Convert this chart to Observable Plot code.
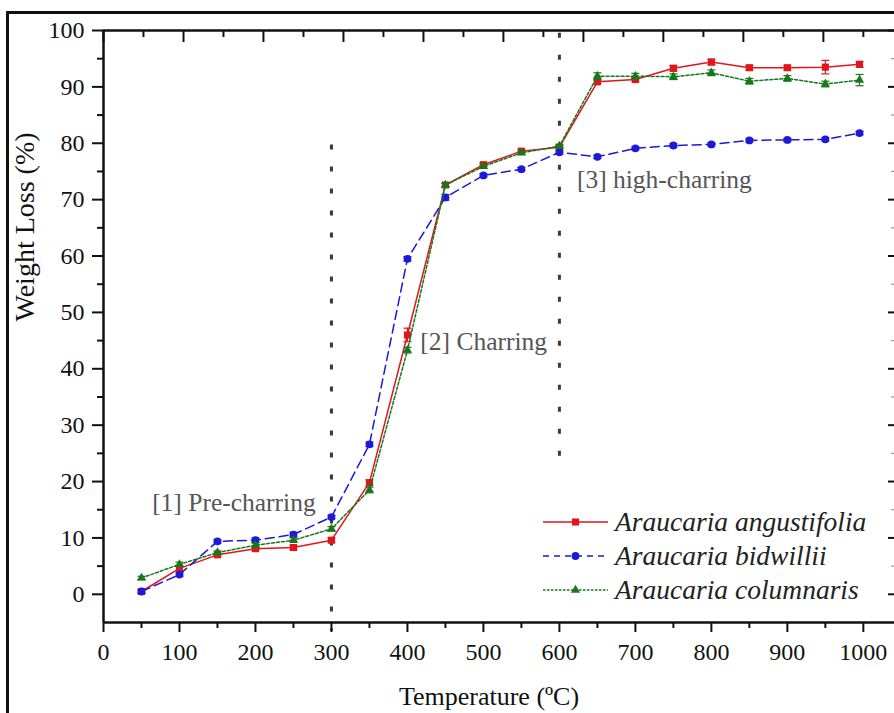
<!DOCTYPE html>
<html><head><meta charset="utf-8">
<script src="https://cdn.jsdelivr.net/npm/d3@7"></script>
<script src="https://cdn.jsdelivr.net/npm/@observablehq/plot@0.6"></script>
<style>
html,body{margin:0;padding:0;background:#fff;overflow:hidden;}
#wrap{position:relative;width:894px;height:713px;overflow:hidden;background:#fff;}
#border{position:absolute;left:6px;top:11px;width:900px;height:720px;border-left:3px solid #111;border-top:3px solid #111;pointer-events:none;}
#legend{position:absolute;left:543px;top:505px;font-family:"Liberation Serif",serif;font-style:italic;font-size:27.5px;color:#222;}
.row{display:flex;align-items:center;height:34px;white-space:nowrap;}
.row svg{margin-right:7px;display:block;}
</style></head><body>
<div id="wrap"><div id="chart"></div><div id="legend"></div><div id="border"></div></div>
<script>
// ---- data ----
const temperatures = [50,100,150,200,250,300,350,400,450,500,550,600,650,700,750,800,850,900,950,995];
const angustifolia = [0.5,4.6,7.0,8.1,8.3,9.6,19.8,46.0,72.6,76.2,78.6,79.3,90.9,91.3,93.3,94.4,93.4,93.4,93.5,94.0];
const angustifoliaErr = [0.3,0.4,0.3,0.3,0.4,0.4,0.5,1.2,0.3,0.3,0.3,0.3,0.3,0.3,0.5,0.5,0.4,0.4,1.2,0.5];
const bidwillii = [0.5,3.5,9.4,9.6,10.6,13.7,26.6,59.5,70.4,74.3,75.4,78.4,77.6,79.1,79.6,79.8,80.5,80.6,80.7,81.8];
const bidwilliiErr = [0.3,0.3,0.3,0.4,0.4,0.3,0.4,0.4,0.5,0.3,0.3,0.3,0.3,0.3,0.3,0.3,0.3,0.3,0.3,0.3];
const columnaris = [2.9,5.3,7.4,8.7,9.6,11.6,18.5,43.3,72.6,75.9,78.3,79.5,91.9,91.9,91.8,92.5,91.0,91.5,90.5,91.2];
const columnarisErr = [0.3,0.4,0.3,0.4,0.4,0.4,0.5,0.5,0.3,0.3,0.3,0.3,0.6,0.5,0.5,0.5,0.5,0.5,0.5,1.0];
const seriesNames = ["Araucaria angustifolia","Araucaria bidwillii","Araucaria columnaris"];
const seriesColors = ["#e3141c","#1a1ad8","#16781a"];
const xTicks = [0,100,200,300,400,500,600,700,800,900,1000];
const xMinorTicks = [50,150,250,350,450,550,650,750,850,950];
const yTicks = [0,10,20,30,40,50,60,70,80,90,100];
const yMinorTicks = [5,15,25,35,45,55,65,75,85,95];
// mirrored top axis ticks (different spacing in the original figure)
const topMajorTicks = [0,105.3,210.5,315.8,421.1,526.3,631.6,736.8,842.1,947.4];
const topMinorTicks = [52.6,157.9,263.2,368.4,473.7,578.9,684.2,789.5,894.7,1000];
const phaseLines = [{x:300, y1:79.7, y2:-6.5},{x:600, y1:99.5, y2:22.5}];
const annotations = [
  {x:64, y:16.2, label:"[1] Pre-charring"},
  {x:417, y:44.7, label:"[2] Charring"},
  {x:623, y:73.6, label:"[3] high-charring"}
];

// ---- build tables ----
const errs = [angustifoliaErr, bidwilliiErr, columnarisErr];
const tables = [angustifolia, bidwillii, columnaris].map((vals, s) =>
  temperatures.map((t, i) => ({t, v: vals[i], e: errs[s][i]})));

const cap = {draw(ctx, size){ const r = Math.sqrt(size/Math.PI); ctx.moveTo(-r,0); ctx.lineTo(r,0); }};
const styles = [
  {dash: null, symbol: "square", r: 4},
  {dash: "9,5", symbol: "circle", r: 3.9},
  {dash: "3,2", symbol: "triangle", r: 3.4}
];

const seriesMarks = tables.flatMap((rows, s) => [
  Plot.line(rows, {x:"t", y:"v", stroke: seriesColors[s], strokeWidth: 1.5, strokeDasharray: styles[s].dash}),
  Plot.ruleX(rows, {x:"t", y1: d => d.v - d.e, y2: d => d.v + d.e, stroke: seriesColors[s], strokeWidth: 1.2}),
  Plot.dot(rows, {x:"t", y: d => d.v + d.e, symbol: cap, r: 4, stroke: seriesColors[s], strokeWidth: 1.2}),
  Plot.dot(rows, {x:"t", y: d => d.v - d.e, symbol: cap, r: 4, stroke: seriesColors[s], strokeWidth: 1.2}),
  Plot.dot(rows, {x:"t", y:"v", symbol: styles[s].symbol, r: styles[s].r, fill: seriesColors[s], stroke: "none"})
]);

const plain = d => String(d);
const chart = Plot.plot({
  width: 894,
  height: 713,
  marginLeft: 103,
  marginRight: 0,
  marginTop: 30,
  marginBottom: 91,
  style: {fontFamily: "'Liberation Serif', serif", color: "#111", background: "transparent"},
  x: {domain: [0, 1041]},
  y: {domain: [-5, 100]},
  marks: [
    Plot.ruleX(phaseLines, {x:"x", y1:"y1", y2:"y2", stroke:"#3a3a3a", strokeWidth:3, strokeDasharray:"5,17"}),
    Plot.text(annotations, {x:"x", y:"y", text:"label", textAnchor:"start", fill:"#555", fontSize:25.5}),
    ...seriesMarks,
    Plot.axisY({ticks: yTicks, tickSize: 11, tickPadding: 8, fontSize: 24, tickFormat: plain, label: null, strokeWidth: 2}),
    Plot.axisY({ticks: yMinorTicks, tickSize: 6, tickFormat: () => "", label: null, strokeWidth: 2}),
    Plot.axisY({anchor: "right", ticks: yTicks, tickSize: -7, tickFormat: () => "", label: null, strokeWidth: 2}),
    Plot.axisY({anchor: "right", ticks: yMinorTicks, tickSize: -4, tickFormat: () => "", label: null, strokeWidth: 1, strokeOpacity: 0.5}),
    Plot.axisX({ticks: xTicks, tickSize: 10, tickPadding: 10, fontSize: 24, tickFormat: plain, label: null, strokeWidth: 2}),
    Plot.axisX({ticks: xMinorTicks, tickSize: 6, tickFormat: () => "", label: null, strokeWidth: 2}),
    Plot.axisX({anchor: "top", ticks: topMajorTicks, tickSize: -11, tickFormat: () => "", label: null, strokeWidth: 2}),
    Plot.axisX({anchor: "top", ticks: topMinorTicks, tickSize: -6, tickFormat: () => "", label: null, strokeWidth: 2}),
    Plot.ruleX([0], {stroke: "#111", strokeWidth: 2.5}),
    Plot.ruleY([-5, 100], {stroke: "#111", strokeWidth: 2.5}),
    Plot.text(["Weight Loss (%)"], {frameAnchor: "left", rotate: -90, dx: -78, dy: -5, fontSize: 28, fill: "#111"}),
    Plot.text(["Temperature (ºC)"], {frameAnchor: "bottom", dx: -10, dy: 82, fontSize: 26, fill: "#111"})
  ]
});
document.getElementById("chart").appendChild(chart);

// ---- legend ----
const legend = d3.select("#legend");
seriesNames.forEach((name, s) => {
  const row = legend.append("div").attr("class", "row");
  const svg = row.append("svg").attr("width", 65).attr("height", 34);
  svg.append("line").attr("x1", 0).attr("x2", 65).attr("y1", 17).attr("y2", 17)
    .attr("stroke", seriesColors[s]).attr("stroke-width", 1.5)
    .attr("stroke-dasharray", [null, "6,5", "2.5,1.5"][s]);
  const sym = {square: d3.symbolSquare, circle: d3.symbolCircle, triangle: d3.symbolTriangle}[styles[s].symbol];
  svg.append("path").attr("transform", "translate(32.5,17)")
    .attr("d", d3.symbol(sym, Math.PI * styles[s].r * styles[s].r)())
    .attr("fill", seriesColors[s]);
  row.append("span").text(name);
});
</script>
</body></html>
